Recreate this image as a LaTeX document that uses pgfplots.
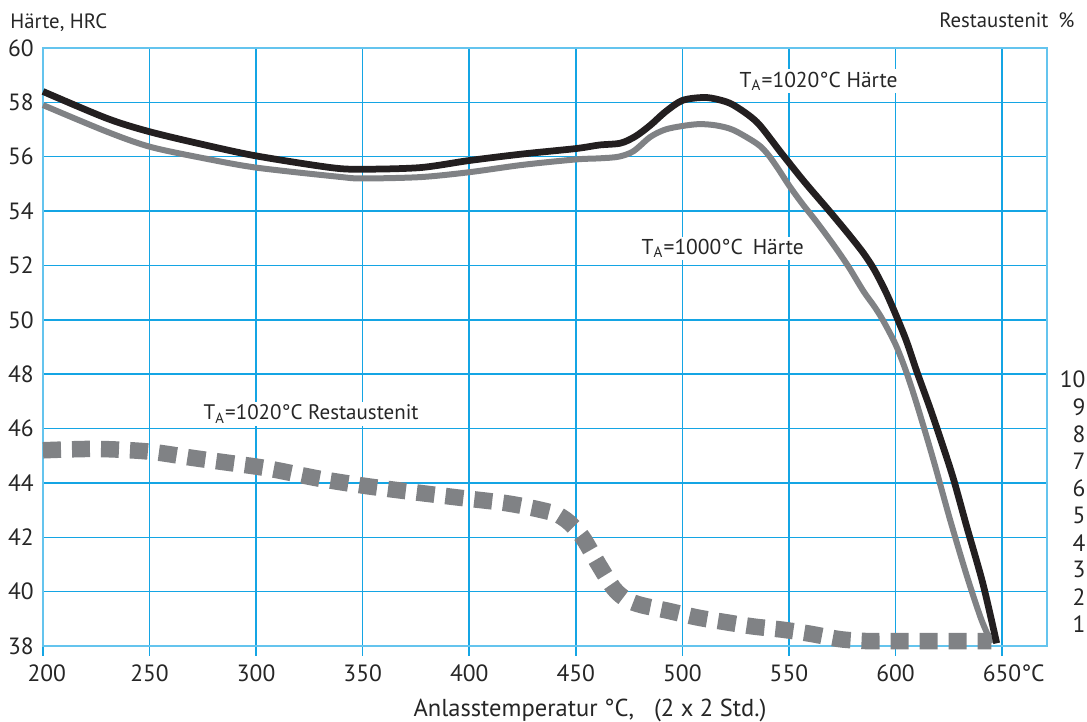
\documentclass[border=0pt]{standalone}
\usepackage{fontspec}
\setmainfont{PT Sans}
\usepackage{pgfplots}
\pgfplotsset{compat=1.18}
\definecolor{gridc}{RGB}{20,165,228}
\definecolor{framec}{RGB}{100,196,238}
\definecolor{curvblack}{RGB}{35,31,32}
\definecolor{curvgray}{RGB}{128,130,133}

\begin{document}
\begin{tikzpicture}
\useasboundingbox (-17.2pt,-30.4pt) rectangle (417.6pt,258.4pt);
\begin{axis}[
  at={(0pt,0pt)}, anchor=south west,
  scale only axis, width=401.6pt, height=239.2pt,
  xmin=200, xmax=671.1, ymin=38, ymax=60,
  xtick={200,250,...,650},
  xticklabels={\hspace{3pt}200,250,300,350,400,450,500,550,600,650\rlap{°C}},
  ytick={38,40,...,60},
  grid=major,
  major grid style={gridc, line width=0.6pt},
  axis line style={framec, line width=0.6pt},
  tick align=outside,
  xtick pos=bottom, ytick pos=left,
  xtick style={gridc, line width=0.6pt},
  major tick length=4pt,
  ytick style={draw=none},
  /pgf/number format/assume math mode=true,
  tick label style={font=\fontsize{9.4}{11}\selectfont, text=black!85},
  yticklabel style={xshift=3.8pt},
  clip=false,
]
\addplot[curvgray, line width=6.6pt, line cap=butt, dash pattern=on 7.2pt off 4.4pt, smooth, tension=0.5] coordinates {
(200,45.2) (225,45.25) (250,45.15) (272,44.9) (300,44.6) (311,44.45) (330,44.15) (352,43.88) (375,43.65) (396,43.45) (415,43.28) (425,43.15) (434,43.0) (441,42.85) (446,42.6) (450,42.3) (454,41.9) (461,40.96) (468,40.1) (474,39.7) (481,39.5) (493,39.3) (507,39.05) (520,38.88) (533,38.72) (547,38.6) (560,38.45) (574,38.25) (587,38.18) (600,38.18) (645,38.18)
};
\addplot[curvgray, line width=2.4pt, smooth, tension=0.5] coordinates {
(200,57.9) (230,56.92) (250,56.37) (275,55.95) (300,55.6) (339,55.26) (350,55.2) (377,55.25) (400,55.43) (425,55.7) (450,55.9) (461,55.94) (470,56.0) (477,56.2) (485,56.73) (492,57.0) (500,57.13) (508,57.2) (516,57.15) (524,56.98) (535,56.48) (540,56.1) (545,55.55) (550,54.95) (556,54.3) (563,53.6) (571,52.75) (578,51.95) (585,51.05) (590,50.5) (594,50.0) (600,49.1) (605,48.1) (610,46.9) (617.6,44.9) (625.6,42.65) (633.4,40.6) (639.7,39.1) (642.8,38.5) (645,38.1)
};
\addplot[curvblack, line width=2.7pt, smooth, tension=0.5] coordinates {
(200,58.4) (230,57.41) (250,56.92) (275,56.45) (300,56.03) (335,55.6) (350,55.54) (377,55.6) (400,55.86) (425,56.1) (450,56.3) (461,56.43) (471,56.5) (478,56.75) (485,57.16) (492,57.65) (500,58.07) (510,58.18) (517,58.1) (524,57.9) (535,57.27) (546,56.18) (557,55.1) (569,54.0) (578,53.15) (585,52.45) (590,51.85) (595,51.1) (599,50.4) (605,49.25) (610,48.1) (616,46.8) (621,45.65) (627,44.2) (633.4,42.4) (641,40.3) (647.5,38.1)
};
\node[anchor=base west, fill=white, inner sep=1pt, font=\fontsize{8.6}{10}\selectfont, text=black!85] at (axis cs:525.5,58.56) {T\textsubscript{A}=1020°C Härte};
\node[anchor=base west, fill=white, inner sep=1pt, font=\fontsize{8.6}{10}\selectfont, text=black!85] at (axis cs:479.5,52.39) {T\textsubscript{A}=1000°C\hspace{4pt}Härte};
\node[anchor=base west, fill=white, inner sep=1pt, font=\fontsize{8.4}{10}\selectfont, text=black!85] at (axis cs:274,46.32) {T\textsubscript{A}=1020°C Restaustenit};
\end{axis}
\begin{axis}[
  at={(0pt,0pt)}, anchor=south west,
  scale only axis, width=401.6pt, height=239.2pt,
  xmin=200, xmax=671.1, ymin=0.2, ymax=22.2,
  axis y line*=right, hide x axis,
  y axis line style={draw=none},
  ytick={1,...,10},
  ytick style={draw=none},
  /pgf/number format/assume math mode=true,
  yticklabel style={anchor=east, xshift=18.9pt, font=\fontsize{9.4}{11}\selectfont, text=black!85},
]
\end{axis}
\node[anchor=base west, inner sep=0pt, font=\fontsize{8.3}{10}\selectfont, text=black!85] at (-13.2pt,246.8pt) {Härte, HRC};
\node[anchor=base east, inner sep=0pt, font=\fontsize{8.3}{10}\selectfont, text=black!85] at (412.8pt,247.2pt) {Restaustenit\hspace{4pt}\%};
\node[anchor=base, inner sep=0pt, font=\fontsize{9.8}{11}\selectfont, text=black!85] at (218.8pt,-28.4pt) {Anlasstemperatur °C,\hspace{8pt}(2 x 2 Std.)};
\end{tikzpicture}
\end{document}
